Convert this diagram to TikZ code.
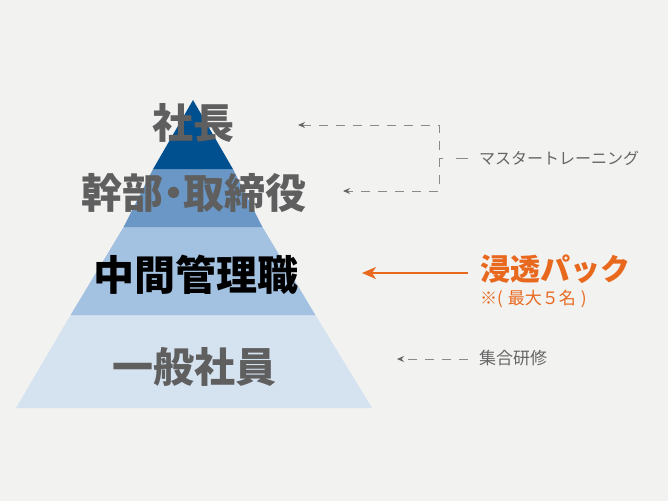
\documentclass[tikz,border=0pt]{standalone}
\usepackage{fontspec}
\newfontfamily\jp{Noto Sans CJK JP}
\newfontfamily\jpp{Noto Sans CJK JP}[RawFeature=+palt]
\usetikzlibrary{arrows.meta}
\definecolor{bg}{HTML}{F2F2F1}
\definecolor{tierA}{HTML}{00508F}
\definecolor{tierB}{HTML}{6A97C5}
\definecolor{tierC}{HTML}{A3C1E1}
\definecolor{tierD}{HTML}{D5E2F0}
\definecolor{tiertext}{HTML}{5F5F5F}
\definecolor{labgray}{HTML}{666666}
\definecolor{dashgray}{HTML}{8A8A8A}
\definecolor{accent}{HTML}{E8681E}
\tikzset{
  tierlabel/.style={anchor=base, inner sep=0pt, font=\jp\bfseries\fontsize{41}{41}\selectfont, text=tiertext},
  sidelabel/.style={anchor=base west, inner sep=0pt, text=labgray},
  dashline/.style={draw=dashgray, line width=0.9pt, dash pattern=on 9pt off 8pt},
  graytip/.style={-{Stealth[length=7pt,width=6pt,color=labgray]}},
}
\begin{document}
\begin{tikzpicture}[x=1pt,y=-1pt]
\fill[bg] (0,0) rectangle (668,501);
\useasboundingbox (0,0) rectangle (668,501);
% pyramid tiers (apex 193,100; base 16..372 at 408)
\fill[tierD] (70.6,315) -- (315.4,315) -- (372,408) -- (16,408) -- cycle;
\fill[tierC] (123.6,227) -- (262.4,227) -- (315.4,315) -- (70.6,315) -- cycle;
\fill[tierB] (153.1,169) -- (232.9,169) -- (262.4,227) -- (123.6,227) -- cycle;
\fill[tierA] (193,100) -- (232.9,169) -- (153.1,169) -- cycle;
% tier labels
\node[tierlabel] (t1) at (193.5,138.6) {社長};
\node[tierlabel, font=\jpp\bfseries\fontsize{41}{41}\selectfont] (t2) at (194,208) {幹部・取締役};
\node[tierlabel, text=black] (t3) at (195.5,290) {中間管理職};
\node[tierlabel] (t4) at (194,382.6) {一般社員};
% side labels
\node[sidelabel, font=\jp\fontsize{16}{16}\selectfont] (mt) at (479,164) {マスタートレーニング};
\node[sidelabel, font=\jp\bfseries\fontsize{30}{30}\selectfont, text=accent] (pk) at (480,280) {浸透パック};
\node[sidelabel, font=\jp\fontsize{17}{17}\selectfont, text=accent] (pn) at (480,304) {※(\hspace{5pt}最大５名\hspace{5pt})};
\node[sidelabel, font=\jp\fontsize{17}{17}\selectfont] (sg) at (479,364) {集合研修};
% connectors
\coordinate (a1) at (298,125);
\coordinate (c1) at (439,125);
\coordinate (c2) at (439,191);
\coordinate (a2) at (343,191);
\coordinate (cm) at (439,158);
\coordinate (cme) at (468,158);
\draw[dashline, {Stealth[length=7pt,width=6pt,color=labgray]}-{Stealth[length=7pt,width=6pt,color=labgray]}] (a1) -- (c1) -- (c2) -- (a2);
\draw[dashline, dash pattern=on 4pt off 13pt on 12pt off 20pt] (cm) -- (cme);
\coordinate (o1) at (468,273);
\coordinate (o2) at (362,273);
\draw[accent, line width=1.6pt, -{Stealth[length=14pt,width=12pt,inset=4pt]}] (o1) -- (o2);
\coordinate (g1) at (468,359);
\coordinate (g2) at (397,359);
\draw[dashline, graytip] (g1) -- (g2);
\end{tikzpicture}
\end{document}
